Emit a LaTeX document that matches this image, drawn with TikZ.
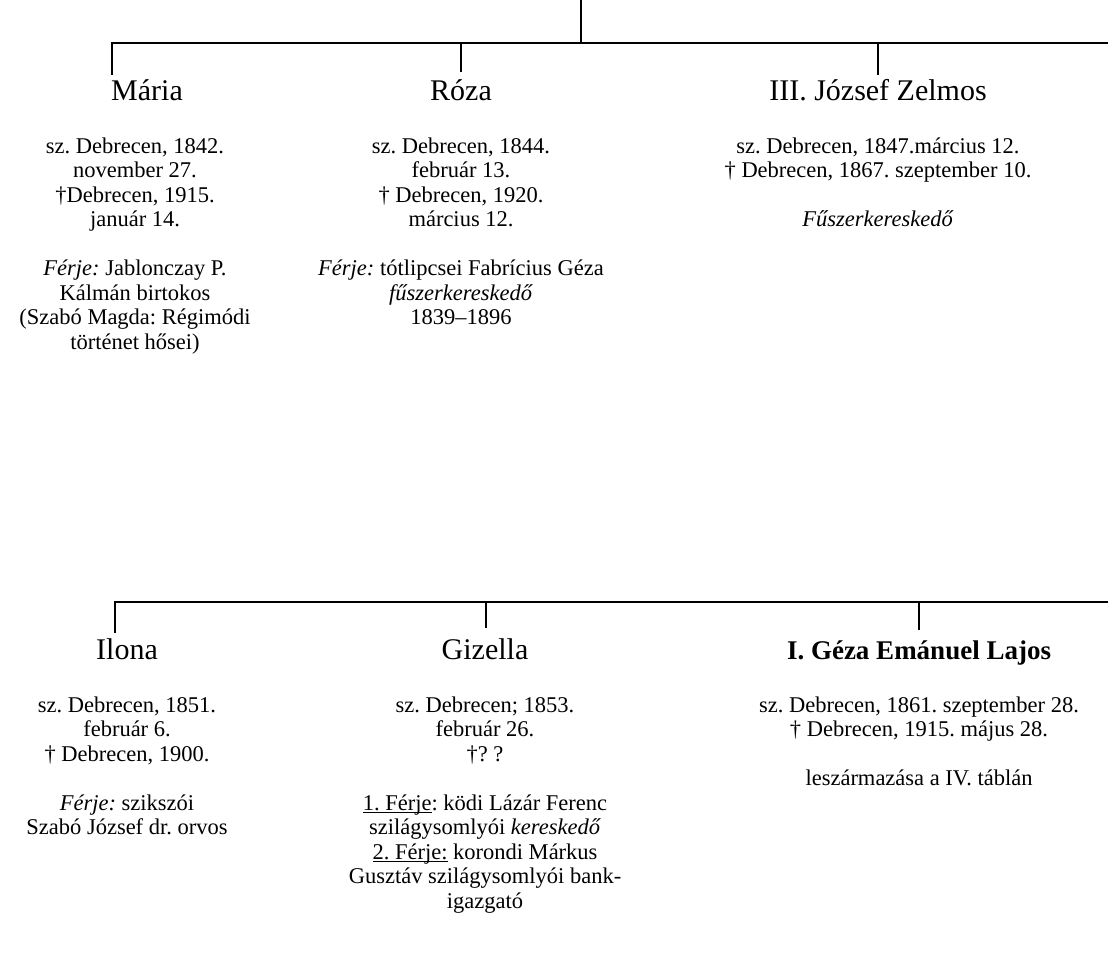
\documentclass[tikz,border=0pt]{standalone}
\usepackage{fontspec}
\setmainfont{Liberation Serif}
\frenchspacing
\usetikzlibrary{positioning}

\newcommand{\uln}[1]{\underline{\smash{#1}}}

\begin{document}
\begin{tikzpicture}[x=0.5pt, y=-0.5pt, node distance=18.5pt]
  \tikzstyle{nametext} = [inner sep=0pt, anchor=base, font=\fontsize{15}{17}\selectfont]
  \tikzstyle{datatext} = [inner sep=0pt, align=center, font=\fontsize{11.25}{12.25}\selectfont]
  \tikzstyle{line} = [line width=1.4pt]

  \useasboundingbox (0,0) rectangle (1108,960);

  % first row of children
  \node [nametext] (maria) at (147,100) {Mária};
  \node [datatext, below=of maria.base, xshift=-6pt] (mariadata)
    {sz. Debrecen, 1842.\\ november 27.\\ †Debrecen, 1915.\\ január 14.\\[12.25pt]
     \textit{Férje:} Jablonczay P.\\ Kálmán birtokos\\ (Szabó Magda: Régimódi\\ történet hősei)};

  \node [nametext] (roza) at (461,100) {Róza};
  \node [datatext, below=of roza.base] (rozadata)
    {sz. Debrecen, 1844.\\ február 13.\\ † Debrecen, 1920.\\ március 12.\\[12.25pt]
     \textit{Férje:} tótlipcsei Fabrícius Géza\\ \textit{fűszerkereskedő}\\ 1839--1896};

  \node [nametext] (jozsef) at (878,100) {III. József Zelmos};
  \node [datatext, below=of jozsef.base] (jozsefdata)
    {sz. Debrecen, 1847.március 12.\\ † Debrecen, 1867. szeptember 10.\\[12.25pt]
     \textit{Fűszerkereskedő}};

  % second row of children
  \node [nametext] (ilona) at (127,659) {Ilona};
  \node [datatext, below=of ilona.base] (ilonadata)
    {sz. Debrecen, 1851.\\ február 6.\\ † Debrecen, 1900.\\[12.25pt]
     \textit{Férje:} szikszói\\ Szabó József dr. orvos};

  \node [nametext] (gizella) at (485,659) {Gizella};
  \node [datatext, below=of gizella.base] (gizelladata)
    {sz. Debrecen; 1853.\\ február 26.\\ †? ?\\[12.25pt]
     \uln{1. Férje}: ködi Lázár Ferenc\\ szilágysomlyói \textit{kereskedő}\\
     \uln{2. Férje:} korondi Márkus\\ Gusztáv szilágysomlyói bank-\\ igazgató};

  \node [nametext, font=\fontsize{13.5}{16}\selectfont\bfseries] (geza) at (919,659) {I. Géza Emánuel Lajos};
  \node [datatext, below=of geza.base] (gezadata)
    {sz. Debrecen, 1861. szeptember 28.\\ † Debrecen, 1915. május 28.\\[12.25pt]
     leszármazása a IV. táblán};

  % lines of descent
  \coordinate (parent) at (581,0);
  \coordinate (topend) at (1108,43);
  \coordinate (mariaend) at (112,75);
  \coordinate (rozaend) at (461,72);
  \coordinate (jozsefend) at (878,75);

  \coordinate (botend) at (1108,602);
  \coordinate (ilonaend) at (115,633);
  \coordinate (gizellaend) at (486,628);
  \coordinate (gezaend) at (919,630);

  \draw [line] (mariaend) |- (topend);
  \draw [line] (parent) -- (parent |- topend);
  \draw [line] (rozaend |- topend) -- (rozaend);
  \draw [line] (jozsefend |- topend) -- (jozsefend);

  \draw [line] (ilonaend) |- (botend);
  \draw [line] (gizellaend |- botend) -- (gizellaend);
  \draw [line] (gezaend |- botend) -- (gezaend);
\end{tikzpicture}
\end{document}
